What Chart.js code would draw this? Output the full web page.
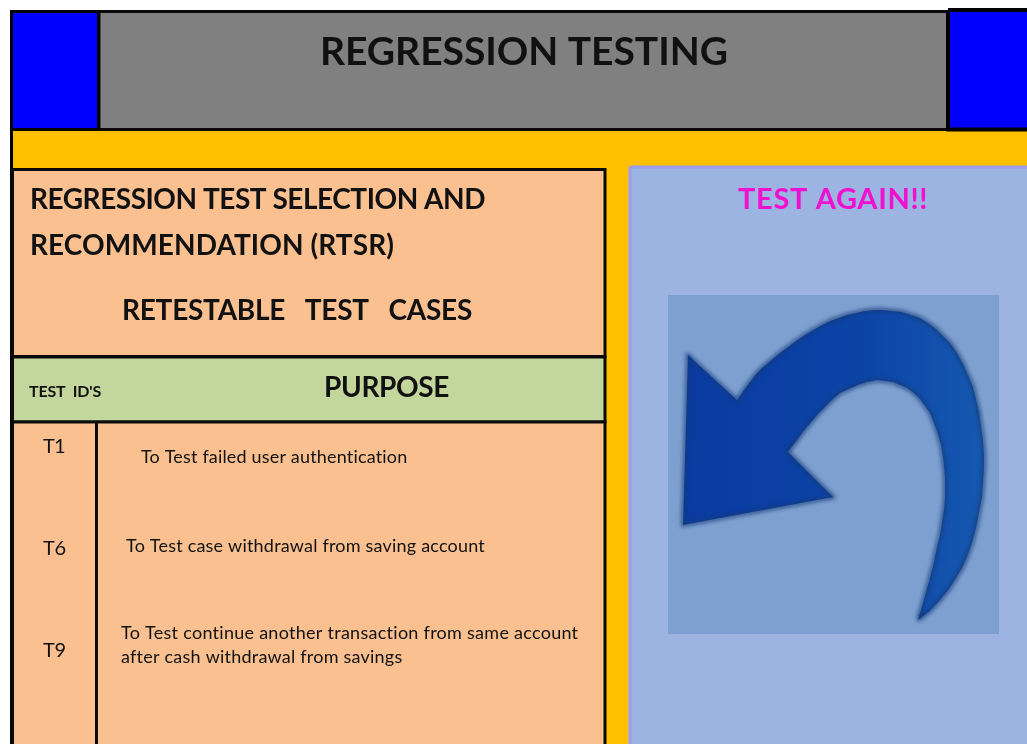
<!DOCTYPE html>
<html>
<head>
<meta charset="utf-8">
<style>
  html, body { margin: 0; padding: 0; background: #fff; overflow: hidden; }
  canvas { display: block; filter: blur(0.45px); }
</style>
<script src="https://cdn.jsdelivr.net/npm/chart.js@4/dist/chart.umd.js"></script>
</head>
<body>
<canvas id="slide" width="1027" height="744"></canvas>
<script>
var slideTitle = "REGRESSION TESTING";
var sectionLines = ["REGRESSION TEST SELECTION AND", "RECOMMENDATION (RTSR)"];
var sectionSub = "RETESTABLE   TEST   CASES";
var columnHeads = ["TEST  ID'S", "PURPOSE"];
var testIds = ["T1", "T6", "T9"];
var purposes = [
  "To Test failed user authentication",
  "To Test case withdrawal from saving account",
  "To Test continue another transaction from same account",
  "after cash withdrawal from savings"
];
var sideTitle = "TEST AGAIN!!";

// arrow outline (x, y on the 1027x744 page)
var arrowX = [918, 930, 940, 949, 956, 962, 967, 972, 976, 979, 982, 983, 984, 984, 983, 981, 979, 976, 973, 968, 963, 957, 950, 943, 936, 928, 920, 911, 902, 893, 883, 874, 865, 856, 847, 839, 830, 822, 813, 805, 796, 788, 780, 774, 768, 762, 757, 747, 737, 688, 683, 833, 788, 794, 800, 806, 813, 819, 826, 833, 840, 849, 858, 867, 877, 885, 893, 900, 907, 914, 920, 925, 930, 934, 938, 941, 943, 944, 945, 945, 945, 944, 942, 940, 937, 933, 928, 923, 918];
var arrowY = [620, 611, 600, 589, 578, 568, 557, 543, 528, 513, 497, 483, 468, 454, 440, 426, 412, 399, 387, 375, 364, 353, 343, 336, 329, 323, 318, 315, 312, 311, 310, 310, 311, 313, 315, 318, 321, 325, 330, 335, 341, 347, 353, 358, 363, 368, 373, 386, 400, 355, 525, 497, 452, 444, 436, 428, 420, 413, 406, 399, 393, 389, 385, 382, 380, 381, 382, 385, 388, 393, 399, 406, 413, 423, 434, 445, 457, 467, 477, 487, 497, 510, 522, 535, 547, 566, 585, 603, 620];

var datasets = [];

function box(x0, y0, x1, y1, fill, stroke, lw) {
  datasets.push({
    data: [{x: x0, y: y0}, {x: x1, y: y0}, {x: x1, y: y1}, {x: x0, y: y1}, {x: x0, y: y0}],
    showLine: true,
    fill: fill ? 'shape' : false,
    backgroundColor: fill || 'transparent',
    borderColor: stroke || fill,
    borderWidth: stroke ? lw : 0,
    borderJoinStyle: 'miter',
    pointRadius: 0,
    clip: false,
    order: -datasets.length
  });
}

function rule(x0, y0, x1, y1, color, lw) {
  datasets.push({
    data: [{x: x0, y: y0}, {x: x1, y: y1}],
    showLine: true,
    borderColor: color,
    borderWidth: lw,
    pointRadius: 0,
    clip: false,
    order: -datasets.length
  });
}

// yellow background, header strip
box(11, 130, 1027, 744, '#ffc000');
box(99, 11.5, 948, 129.5, '#808080', '#0a0a0a', 3);
box(11.5, 11.5, 98.5, 129.5, '#0000ff', '#000', 3);
box(948, 10, 1032, 129.5, '#0000ff', '#000', 4);
rule(11.5, 10, 11.5, 744, '#000', 3);

// right panel
box(630, 167, 1032, 750, '#9db3e2', '#9a9cf0', 3);
box(668, 295, 999, 634, '#7ea0d0');

// left table
box(12.5, 169.5, 605, 356.5, '#fac090', '#0a0a0a', 3);
box(12.5, 357, 605, 422, '#c3d69b', '#0a0a0a', 3);
box(12.5, 422, 605, 752, '#fac090', '#0a0a0a', 3);
rule(96.5, 422, 96.5, 744, '#0a0a0a', 3);

// arrow
var arrowPoints = arrowX.map(function (x, i) { return {x: x, y: arrowY[i]}; });
var ctx = document.getElementById('slide').getContext('2d');
var arrowFill = ctx.createLinearGradient(683, 480, 984, 480);
arrowFill.addColorStop(0, '#0a3ba0');
arrowFill.addColorStop(0.6, '#0d44a6');
arrowFill.addColorStop(1, '#1559b0');
var arrowIndex = datasets.length;
datasets.push({
  data: arrowPoints,
  showLine: true,
  fill: 'shape',
  backgroundColor: arrowFill,
  borderColor: '#143a78',
  borderWidth: 3,
  borderJoinStyle: 'miter',
  pointRadius: 0,
  clip: false,
  order: -datasets.length
});

function label(chart, text, x, y, font, color, width) {
  var c = chart.ctx;
  var px = chart.scales.x.getPixelForValue(x);
  var py = chart.scales.y.getPixelForValue(y);
  c.font = font;
  c.fillStyle = color;
  c.textAlign = 'left';
  c.textBaseline = 'alphabetic';
  c.letterSpacing = '0px';
  if (width) {
    var w = c.measureText(text).width;
    c.letterSpacing = ((width - w) / text.length).toFixed(3) + 'px';
  }
  c.fillText(text, px, py);
  c.letterSpacing = '0px';
}

var slideText = {
  id: 'slideText',
  beforeDatasetDraw: function (chart, args) {
    if (args.index === arrowIndex) {
      chart.ctx.save();
      chart.ctx.filter = 'blur(2px)';
    }
  },
  afterDatasetDraw: function (chart, args) {
    if (args.index === arrowIndex) chart.ctx.restore();
  },
  afterDatasetsDraw: function (chart) {
    var ink = '#111';
    chart.ctx.save();
    label(chart, slideTitle, 320, 65, 'bold 39px Lato', ink, 408);
    label(chart, sectionLines[0], 30, 209, 'bold 28px Lato', ink, 455);
    label(chart, sectionLines[1], 30, 255, 'bold 28px Lato', ink, 364);
    label(chart, sectionSub, 122, 320, 'bold 28px Lato', ink, 350);
    label(chart, columnHeads[0], 29, 397, 'bold 16px Lato', ink, 72);
    label(chart, columnHeads[1], 324, 397, 'bold 28px Lato', ink, 125);
    label(chart, testIds[0], 43, 453, '20px Lato', ink, 22);
    label(chart, testIds[1], 43, 555, '20px Lato', ink, 23);
    label(chart, testIds[2], 43, 657, '20px Lato', ink, 23);
    label(chart, purposes[0], 141, 463, '18px Lato', ink, 267);
    label(chart, purposes[1], 126, 552, '18px Lato', ink, 359);
    label(chart, purposes[2], 121, 639, '18px Lato', ink, 458);
    label(chart, purposes[3], 121, 663, '18px Lato', ink, 281);
    label(chart, sideTitle, 738, 209, 'bold 29px Lato', '#f010d0', 190);
    chart.ctx.restore();
  }
};

new Chart(ctx, {
  type: 'scatter',
  data: { datasets: datasets },
  plugins: [slideText],
  options: {
    responsive: false,
    animation: false,
    events: [],
    layout: { padding: 0 },
    plugins: { legend: { display: false }, tooltip: { enabled: false } },
    scales: {
      x: { type: 'linear', min: 0, max: 1027, display: false },
      y: { type: 'linear', min: 0, max: 744, reverse: true, display: false }
    }
  }
});
</script>
</body>
</html>
